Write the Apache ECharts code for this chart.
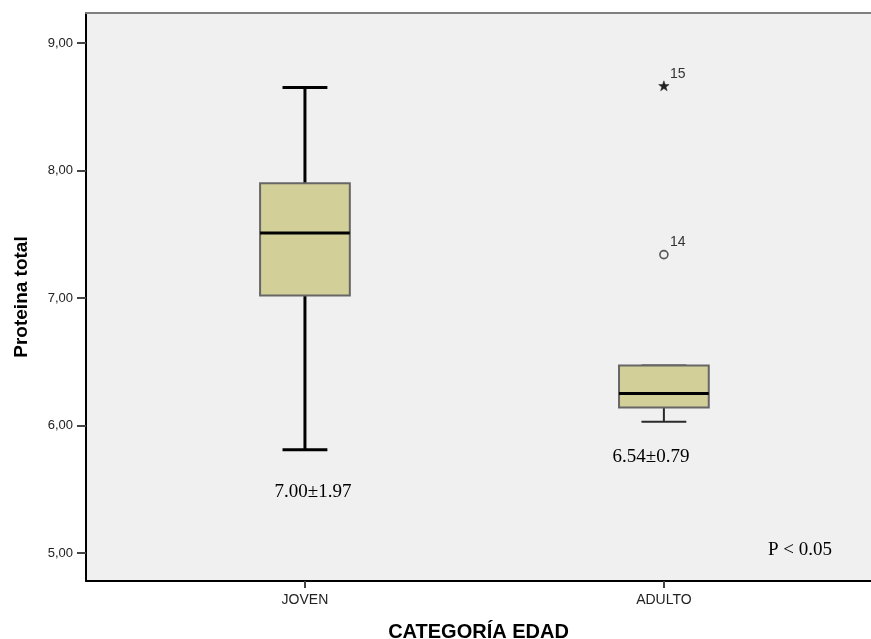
<!DOCTYPE html>
<html>
<head>
<meta charset="utf-8">
<script src="https://cdn.jsdelivr.net/npm/echarts@6/dist/echarts.min.js"></script>
<style>
  html, body { margin: 0; padding: 0; background: #ffffff; }
  #chart { width: 871px; height: 639px; }
</style>
</head>
<body>
<div id="chart"></div>
<script>
// Age groups and the five-number summary of total protein per group
const categories = ['JOVEN', 'ADULTO'];
const whiskerLow = [5.81, 6.03];
const quartile1 = [7.02, 6.14];
const medians = [7.51, 6.25];
const quartile3 = [7.90, 6.47];
const whiskerHigh = [8.65, 6.47];

// Individual cases beyond the whiskers (group index, value, case id, kind)
const outlierGroup = [1, 1];
const outlierValues = [7.34, 8.66];
const outlierIds = ['14', '15'];
const outlierKinds = ['circle', 'star'];

// Axis ticks and annotation texts
const yTicks = [5, 6, 7, 8, 9];
const xTicks = [1, 2];
const meanLabels = ['7.00±1.97', '6.54±0.79'];
const pLabel = 'P < 0.05';

const boxData = categories.map((c, i) => [i + 1, whiskerLow[i], quartile1[i], medians[i], quartile3[i], whiskerHigh[i]]);
const outlierData = outlierValues.map((v, i) => [outlierGroup[i] + 1, v, i]);

const SANS = '"Liberation Sans", Arial, sans-serif';
const SERIF = '"Liberation Serif", "Times New Roman", serif';

// line weights per group
const whiskerStyle = [
  { stroke: '#000000', lineWidth: 3 },
  { stroke: '#2a2a2a', lineWidth: 2 }
];

function renderBox(params, api) {
  const i = params.dataIndex;
  const x = api.value(0);
  const band = api.size([1, 0])[0];
  const boxW = band * 0.25;
  const capW = boxW * 0.5;
  const pLow = api.coord([x, api.value(1)]);
  const pQ1 = api.coord([x, api.value(2)]);
  const pMed = api.coord([x, api.value(3)]);
  const pQ3 = api.coord([x, api.value(4)]);
  const pHigh = api.coord([x, api.value(5)]);
  const cx = pLow[0];
  const ws = whiskerStyle[i];
  return {
    type: 'group',
    children: [
      { type: 'line', shape: { x1: cx, y1: pLow[1], x2: cx, y2: pQ1[1] }, style: ws },
      { type: 'line', shape: { x1: cx, y1: pQ3[1], x2: cx, y2: pHigh[1] }, style: ws },
      { type: 'line', shape: { x1: cx - capW / 2, y1: pLow[1], x2: cx + capW / 2, y2: pLow[1] }, style: ws },
      { type: 'line', shape: { x1: cx - capW / 2, y1: pHigh[1], x2: cx + capW / 2, y2: pHigh[1] }, style: ws },
      {
        type: 'rect',
        shape: { x: cx - boxW / 2, y: pQ3[1], width: boxW, height: pQ1[1] - pQ3[1] },
        style: { fill: '#d3cf99', stroke: '#666666', lineWidth: 2 }
      },
      { type: 'line', shape: { x1: cx - boxW / 2, y1: pMed[1], x2: cx + boxW / 2, y2: pMed[1] }, style: { stroke: '#000000', lineWidth: 3 } }
    ]
  };
}

function starPoints(cx, cy, rOut, rIn) {
  const pts = [];
  for (let k = 0; k < 10; k++) {
    const r = k % 2 === 0 ? rOut : rIn;
    const a = -Math.PI / 2 + k * Math.PI / 5;
    pts.push([cx + r * Math.cos(a), cy + r * Math.sin(a)]);
  }
  return pts;
}

function renderOutlier(params, api) {
  const k = api.value(2);
  const p = api.coord([api.value(0), api.value(1)]);
  const marker = outlierKinds[k] === 'star'
    ? { type: 'polygon', shape: { points: starPoints(p[0], p[1], 5.5, 2.2) }, style: { fill: '#222222', stroke: '#222222', lineWidth: 0.5 } }
    : { type: 'circle', shape: { cx: p[0], cy: p[1], r: 4 }, style: { fill: 'none', stroke: '#555555', lineWidth: 1.6 } };
  return {
    type: 'group',
    children: [
      marker,
      {
        type: 'text',
        style: {
          x: p[0] + 6, y: p[1] - 5, text: outlierIds[k],
          font: '14px ' + SANS, fill: '#333333',
          textAlign: 'left', textVerticalAlign: 'bottom'
        }
      }
    ]
  };
}

const chart = echarts.init(document.getElementById('chart'), null, { renderer: 'canvas' });

chart.setOption({
  backgroundColor: '#ffffff',
  animation: false,
  grid: {
    left: 86, right: 0, top: 13, bottom: 58,
    outerBoundsMode: 'none', containLabel: false,
    show: true, backgroundColor: '#f0f0f0', borderWidth: 0
  },
  xAxis: [
    {
      type: 'value', min: 0.39, max: 2.577, position: 'bottom',
      name: 'CATEGORÍA EDAD', nameLocation: 'middle', nameGap: 41,
      nameTextStyle: { fontFamily: SANS, fontWeight: 'bold', fontSize: 20, color: '#000' },
      axisLine: { show: true, onZero: false, lineStyle: { color: '#000', width: 2 } },
      axisTick: { show: true, customValues: xTicks, length: 7, lineStyle: { color: '#444', width: 2 } },
      axisLabel: {
        customValues: xTicks, margin: 12,
        formatter: v => categories[Math.round(v) - 1],
        fontFamily: SANS, fontSize: 14, color: '#222'
      },
      splitLine: { show: false }
    },
    {
      type: 'value', min: 0.39, max: 2.577, position: 'top',
      axisLine: { show: true, onZero: false, lineStyle: { color: '#808080', width: 2 } },
      axisTick: { show: false }, axisLabel: { show: false }, splitLine: { show: false }
    }
  ],
  yAxis: {
    type: 'value', min: 4.78, max: 9.235,
    name: 'Proteina total', nameLocation: 'middle', nameGap: 55, nameRotate: 90,
    nameTextStyle: { fontFamily: SANS, fontWeight: 'bold', fontSize: 19, color: '#000' },
    axisLine: { show: true, onZero: false, lineStyle: { color: '#000', width: 2 } },
    axisTick: { show: true, customValues: yTicks, length: 9, lineStyle: { color: '#444', width: 2 } },
    axisLabel: {
      customValues: yTicks, margin: 13,
      formatter: v => v.toFixed(2).replace('.', ','),
      fontFamily: SANS, fontSize: 13, color: '#222'
    },
    splitLine: { show: false }
  },
  series: [
    { type: 'custom', name: 'box', xAxisIndex: 0, data: boxData, renderItem: renderBox, encode: { x: 0, y: [1, 2, 3, 4, 5] }, z: 3 },
    { type: 'custom', name: 'outliers', xAxisIndex: 0, data: outlierData, renderItem: renderOutlier, encode: { x: 0, y: 1 }, z: 4 }
  ],
  graphic: [
    { type: 'text', x: 313, y: 492, style: { text: meanLabels[0], font: '19px ' + SERIF, fill: '#000', textAlign: 'center', textVerticalAlign: 'middle' } },
    { type: 'text', x: 651, y: 457, style: { text: meanLabels[1], font: '19px ' + SERIF, fill: '#000', textAlign: 'center', textVerticalAlign: 'middle' } },
    { type: 'text', x: 800, y: 550, style: { text: pLabel, font: '19px ' + SERIF, fill: '#000', textAlign: 'center', textVerticalAlign: 'middle' } }
  ]
});
</script>
</body>
</html>
